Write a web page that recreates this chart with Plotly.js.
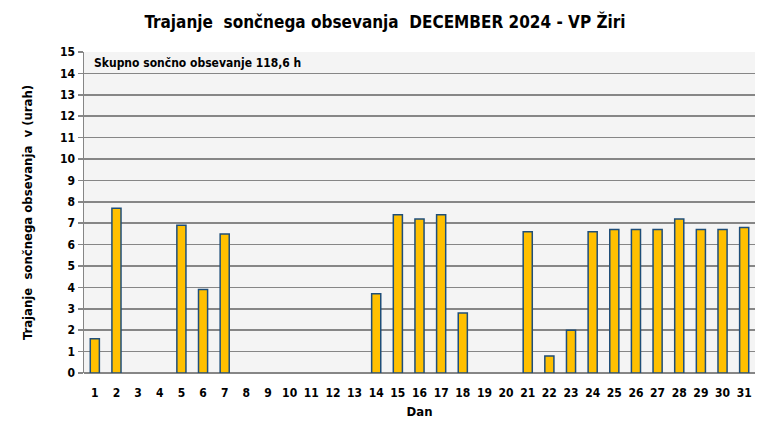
<!DOCTYPE html>
<html>
<head>
<meta charset="utf-8">
<script src="https://cdn.plot.ly/plotly-3.0.1.min.js"></script>
<style>html,body{margin:0;padding:0;background:#fff;}#chart{width:770px;height:439px;}</style>
</head>
<body>
<div id="chart"></div>
<script>
const days = ["1","2","3","4","5","6","7","8","9","10","11","12","13","14","15","16","17","18","19","20","21","22","23","24","25","26","27","28","29","30","31"];
const sunHours = [1.6,7.7,0,0,6.9,3.9,6.5,0,0,0,0,0,0,3.7,7.4,7.2,7.4,2.8,0,0,6.6,0.8,2.0,6.6,6.7,6.7,6.7,7.2,6.7,6.7,6.8];
const yTicks = [0,1,2,3,4,5,6,7,8,9,10,11,12,13,14,15];
const chartTitle = "Trajanje  sončnega obsevanja  DECEMBER 2024 - VP Žiri";
const yTitle = "Trajanje  sončnega obsevanja  v (urah)";
const xTitle = "Dan";
const totalNote = "Skupno sončno obsevanje 118,6 h";

const FONT = "'Liberation Sans Narrow', 'Arial Narrow', 'DejaVu Sans Condensed', sans-serif";

const trace = {
  type: "bar",
  x: days,
  y: sunHours,
  width: 0.42,
  marker: {color: "#FFC000", line: {color: "#1F4E79", width: sunHours.map(v => v > 0 ? 1.5 : 0)}},
  hoverinfo: "x+y"
};

const layout = {
  width: 770, height: 439,
  margin: {l: 84, r: 15, t: 52, b: 66},
  paper_bgcolor: "#ffffff",
  plot_bgcolor: "#f4f4f4",
  showlegend: false,
  font: {family: FONT, color: "#000", size: 12},
  title: {text: "<b>" + chartTitle + "</b>", x: 0.5, xanchor: "center", y: 0.95, yanchor: "middle", font: {family: FONT, size: 17, color: "#000"}},
  xaxis: {
    type: "category",
    tickvals: days, ticktext: days.map(d => "<b>" + d + "</b>"),
    showgrid: false, zeroline: false, showline: false,
    ticks: "outside", ticklen: 9, tickcolor: "rgba(0,0,0,0)",
    tickfont: {family: FONT, size: 12, color: "#000"},
    title: {text: "<b>" + xTitle + "</b>", standoff: 7, font: {family: FONT, size: 13, color: "#000"}}
  },
  yaxis: {
    range: [0, 15],
    tickvals: yTicks, ticktext: yTicks.map(v => "<b>" + v + "</b>"),
    showgrid: true, gridcolor: "#868686", gridwidth: 1.5,
    zeroline: true, zerolinecolor: "#868686", zerolinewidth: 1.5,
    showline: true, linecolor: "#868686", linewidth: 1.5,
    ticks: "outside", ticklen: 5, tickcolor: "#868686", tickwidth: 1.5,
    tickfont: {family: FONT, size: 12, color: "#000"},
    title: {text: "<b>" + yTitle + "</b>", standoff: 24, font: {family: FONT, size: 13, color: "#000"}}
  },
  annotations: [{
    text: "<b>" + totalNote + "</b>",
    xref: "paper", yref: "paper", x: 0.012, y: 0.966, xanchor: "left", yanchor: "middle",
    showarrow: false, font: {family: FONT, size: 12, color: "#000"}
  }]
};

Plotly.newPlot("chart", [trace], layout, {displayModeBar: false, staticPlot: true});
</script>
</body>
</html>
